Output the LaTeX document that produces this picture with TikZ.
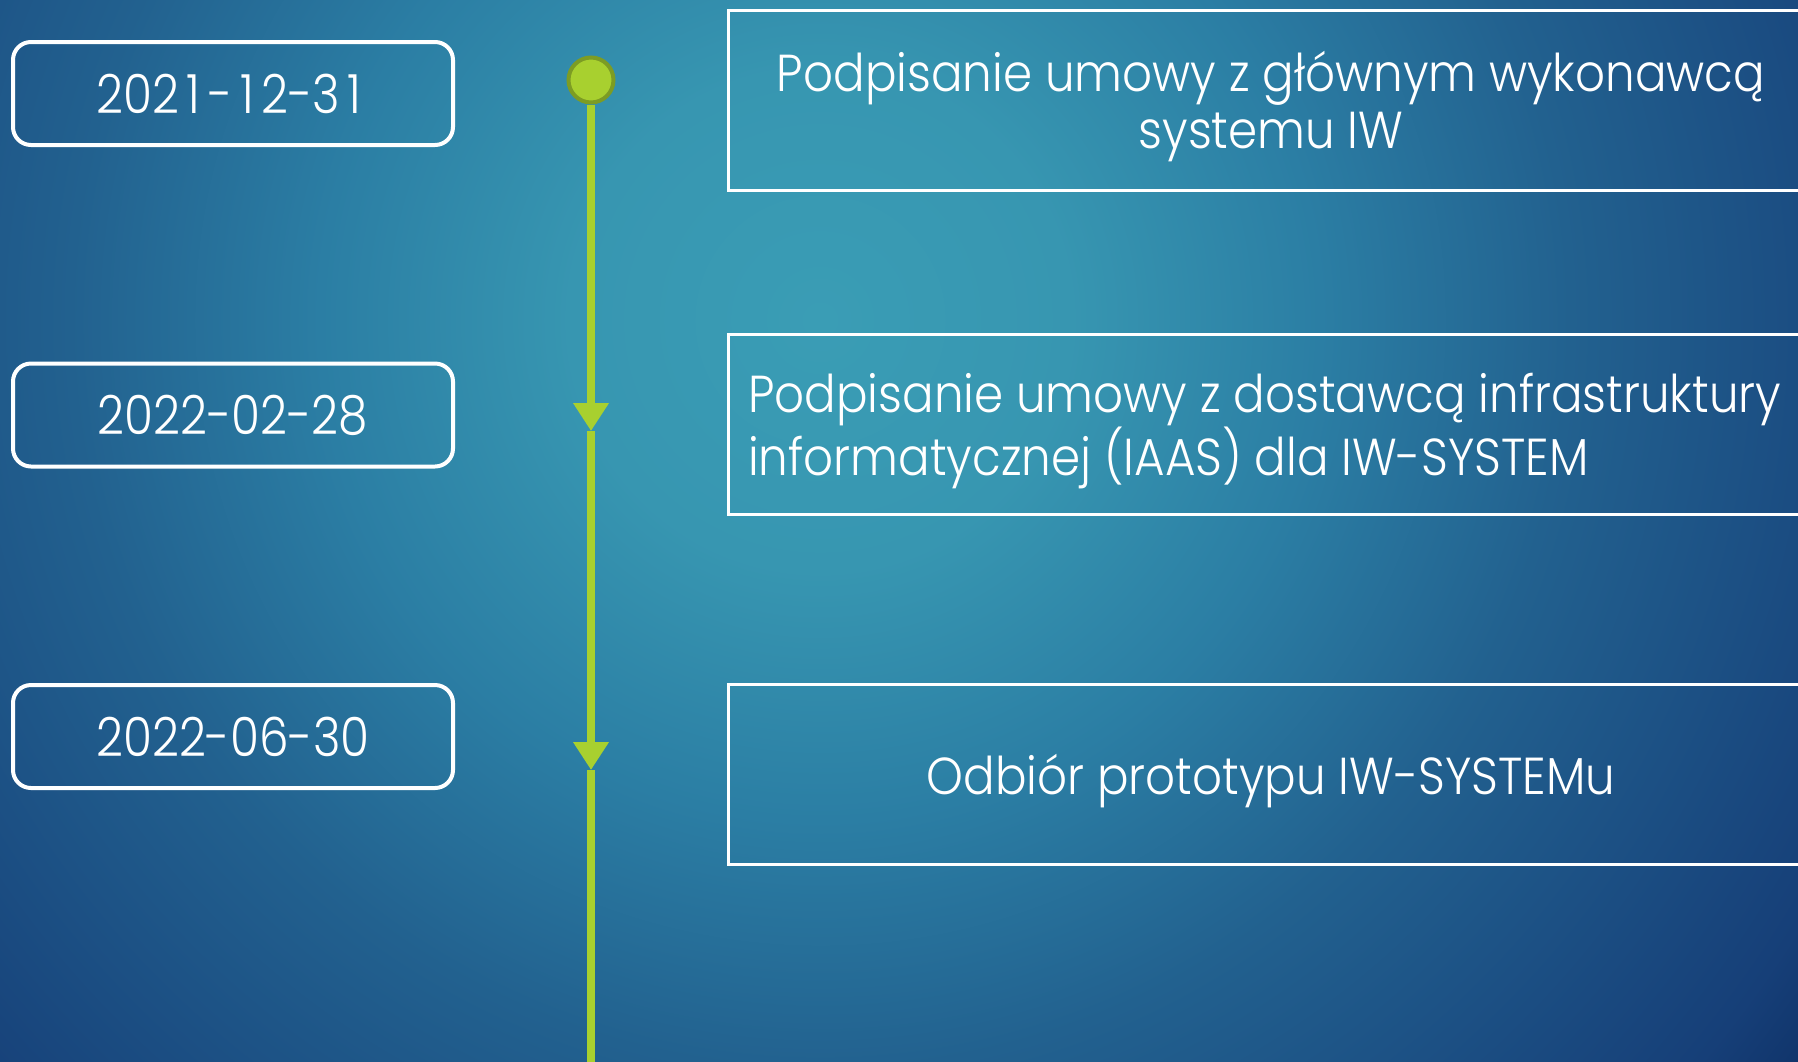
\documentclass[tikz,border=0pt]{standalone}
\usepackage{fontspec}
\setmainfont{Poppins Light}[FakeStretch=0.90]
\newfontfamily\datefont{Poppins Light}[FakeStretch=0.87]
\usetikzlibrary{arrows.meta}
\definecolor{bg0}{HTML}{3A9DB5}
\definecolor{bg1}{HTML}{3796B1}
\definecolor{bg2}{HTML}{2B7EA4}
\definecolor{bg3}{HTML}{22618F}
\definecolor{bg4}{HTML}{1C5084}
\definecolor{bg5}{HTML}{163F78}
\definecolor{bg6}{HTML}{0F3268}
\definecolor{lime}{HTML}{A8D02F}
\definecolor{limedark}{HTML}{7C9C24}
\pgfdeclareradialshading{bgshade}{\pgfpoint{0bp}{0bp}}{color(0bp)=(bg0); color(5bp)=(bg1); color(10bp)=(bg2); color(15bp)=(bg3); color(19bp)=(bg4); color(23bp)=(bg5); color(25bp)=(bg6); color(50bp)=(bg6)}
% tabular-width digit one
\newcommand\dgone{\hbox to \fontcharwd\font`0{\hss 1\hss}}
\tikzset{
  dot/.style={circle, fill=lime, draw=limedark, line width=4pt, minimum size=45pt, inner sep=0pt},
  tl/.style={draw=lime, line width=8pt},
  arr/.style={-{Triangle[width=34pt,length=28pt]}},
  datebox/.style={draw=white, line width=4pt, rounded corners=18pt, minimum width=440pt, minimum height=103pt, inner sep=0pt, text=white, font=\datefont\fontsize{54}{57}\selectfont},
  evbox/.style={draw=white, line width=3pt, minimum width=1086pt, minimum height=180pt, inner sep=0pt},
  evtext/.style={inner sep=0pt, text=white, yshift=-7pt, font=\fontsize{52}{57}\selectfont}
}
\begin{document}
\begin{tikzpicture}[x=1pt,y=-1pt]
\useasboundingbox (0,0) rectangle (1798,1061);
\clip (0,0) rectangle (1798,1061);
\shade[shading=bgshade] (820,320) circle[radius=1250pt];
% timeline
\node[dot] (d0) at (591,80) {};
\coordinate (t1) at (591,431);
\coordinate (t2) at (591,770);
\coordinate (tend) at (591,1075);
\draw[tl,arr] (d0) -- (t1);
\draw[tl,arr] (t1) -- (t2);
\draw[tl] (t2) -- (tend);
% dates
\node[datebox] (b1) at (233,93.5) {202\dgone-\dgone2-3\dgone};
\node[datebox] (b2) at (233,415) {2022-02-28};
\node[datebox] (b3) at (233,736.5) {2022-06-30};
% events
\node[evbox] (e1) at (1271,100) {};
\node[evbox] (e2) at (1271,424) {};
\node[evbox] (e3) at (1271,774.5) {};
\node[evtext, align=center] (e1t) at (e1.center) {Podpisanie umowy z głównym wykonawcą\\systemu IW};
\node[evtext, align=left, anchor=west] (e2t) at (748,424) {Podpisanie umowy z dostawcą infrastruktury\\informatycznej (IAAS) dla IW-SYSTEM};
\node[evtext, align=center] (e3t) at (e3.center) {Odbiór prototypu IW-SYSTEMu};
\end{tikzpicture}
\end{document}
